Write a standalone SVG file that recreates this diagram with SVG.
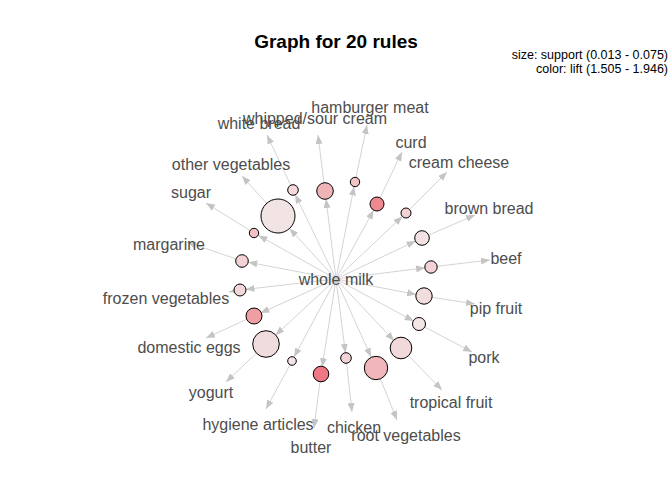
<svg xmlns="http://www.w3.org/2000/svg" width="672" height="480" viewBox="0 0 672 480">
<style>
.e{stroke:#d4d4d4;stroke-width:1;fill:none;marker-end:url(#ah)}
.r{stroke:#000;stroke-width:1}
.lb{font-family:"Liberation Sans",Arial,sans-serif;font-size:16px;fill:#4d4d4d;text-anchor:middle}
.lg{font-family:"Liberation Sans",Arial,sans-serif;font-size:12.5px;fill:#000;text-anchor:end}
</style>
<defs>
<marker id="ah" markerUnits="userSpaceOnUse" markerWidth="10" markerHeight="8" refX="9" refY="3.5" orient="auto">
<path d="M0,0 L9,3.5 L0,7 z" fill="#c4c4c4"/>
</marker>
</defs>
<rect width="672" height="480" fill="#fff"/>
<text x="336" y="48" font-family="'Liberation Sans',Arial,sans-serif" font-size="19" font-weight="bold" text-anchor="middle" fill="#000">Graph for 20 rules</text>
<text class="lg" x="668" y="59">size: support (0.013 - 0.075)</text>
<text class="lg" x="668" y="73">color: lift (1.505 - 1.946)</text>
<g id="connectors">
<line class="e" x1="336" y1="279" x2="258.4" y2="235.4"/>
<line class="e" x1="336" y1="279" x2="289.5" y2="228.5"/>
<line class="e" x1="336" y1="279" x2="295.2" y2="194.5"/>
<line class="e" x1="336" y1="279" x2="326.0" y2="198.9"/>
<line class="e" x1="336" y1="279" x2="354.1" y2="186.4"/>
<line class="e" x1="336" y1="279" x2="373.6" y2="210.1"/>
<line class="e" x1="336" y1="279" x2="402.4" y2="216.4"/>
<line class="e" x1="336" y1="279" x2="415.7" y2="241.0"/>
<line class="e" x1="336" y1="279" x2="425.1" y2="267.8"/>
<line class="e" x1="336" y1="279" x2="416.1" y2="294.5"/>
<line class="e" x1="336" y1="279" x2="413.7" y2="321.1"/>
<line class="e" x1="336" y1="279" x2="394.1" y2="340.7"/>
<line class="e" x1="336" y1="279" x2="371.1" y2="357.1"/>
<line class="e" x1="336" y1="279" x2="345.4" y2="353.0"/>
<line class="e" x1="336" y1="279" x2="322.1" y2="367.1"/>
<line class="e" x1="336" y1="279" x2="294.1" y2="357.0"/>
<line class="e" x1="336" y1="279" x2="275.5" y2="335.2"/>
<line class="e" x1="336" y1="279" x2="260.4" y2="313.1"/>
<line class="e" x1="336" y1="279" x2="245.5" y2="289.4"/>
<line class="e" x1="336" y1="279" x2="248.4" y2="262.2"/>
<line class="e" x1="254" y1="233" x2="206" y2="203"/>
<line class="e" x1="278" y1="216" x2="242" y2="176"/>
<line class="e" x1="293" y1="190" x2="267" y2="135"/>
<line class="e" x1="325" y1="191" x2="318" y2="135"/>
<line class="e" x1="355" y1="182" x2="367" y2="125"/>
<line class="e" x1="377" y1="204" x2="402" y2="152"/>
<line class="e" x1="406" y1="213" x2="447" y2="172"/>
<line class="e" x1="422" y1="238" x2="475" y2="215"/>
<line class="e" x1="431" y1="267" x2="490" y2="260"/>
<line class="e" x1="424" y1="296" x2="475" y2="304"/>
<line class="e" x1="419" y1="324" x2="472" y2="352"/>
<line class="e" x1="401" y1="348" x2="442" y2="390"/>
<line class="e" x1="376" y1="368" x2="397" y2="420"/>
<line class="e" x1="346" y1="358" x2="352" y2="412"/>
<line class="e" x1="321" y1="374" x2="314" y2="428"/>
<line class="e" x1="292" y1="361" x2="266" y2="409"/>
<line class="e" x1="266" y1="344" x2="226" y2="382"/>
<line class="e" x1="254" y1="316" x2="206" y2="338"/>
<line class="e" x1="240" y1="290" x2="229" y2="292"/>
<line class="e" x1="242" y1="261" x2="187" y2="242"/>
</g>
<g id="rule1"><circle class="r" cx="254" cy="233" r="4.7" fill="#f3c1c4"/></g>
<g id="rule2"><circle class="r" cx="278" cy="216" r="17" fill="#f2e4e5"/></g>
<g id="rule3"><circle class="r" cx="293" cy="190" r="5.3" fill="#f5d8da"/></g>
<g id="rule4"><circle class="r" cx="325" cy="191" r="8.3" fill="#f0b4b8"/></g>
<g id="rule5"><circle class="r" cx="355" cy="182" r="4.7" fill="#f2c4c7"/></g>
<g id="rule6"><circle class="r" cx="377" cy="204" r="7" fill="#ee8891"/></g>
<g id="rule7"><circle class="r" cx="406" cy="213" r="5" fill="#f3d2d4"/></g>
<g id="rule8"><circle class="r" cx="422" cy="238" r="7.3" fill="#f2e2e3"/></g>
<g id="rule9"><circle class="r" cx="431" cy="267" r="6.2" fill="#f2d2d4"/></g>
<g id="rule10"><circle class="r" cx="424" cy="296" r="8.2" fill="#f2dcde"/></g>
<g id="rule11"><circle class="r" cx="419" cy="324" r="6.5" fill="#f4e6e7"/></g>
<g id="rule12"><circle class="r" cx="401" cy="348" r="10.8" fill="#f1d8da"/></g>
<g id="rule13"><circle class="r" cx="376" cy="368" r="11.7" fill="#f0b6b9"/></g>
<g id="rule14"><circle class="r" cx="346" cy="358" r="5.3" fill="#f3d4d6"/></g>
<g id="rule15"><circle class="r" cx="321" cy="374" r="7.8" fill="#ee7884"/></g>
<g id="rule16"><circle class="r" cx="292" cy="361" r="4.3" fill="#f4e4e5"/></g>
<g id="rule17"><circle class="r" cx="266" cy="344" r="13.3" fill="#f1dcdd"/></g>
<g id="rule18"><circle class="r" cx="254" cy="316" r="8" fill="#ef9ea3"/></g>
<g id="rule19"><circle class="r" cx="240" cy="290" r="6" fill="#f3d6d8"/></g>
<g id="rule20"><circle class="r" cx="242" cy="261" r="6.3" fill="#f2d2d4"/></g>
<g id="whole-milk"><text class="lb" x="336" y="285">whole milk</text></g>
<g id="sugar"><text class="lb" x="191" y="198">sugar</text></g>
<g id="other-vegetables"><text class="lb" x="231" y="170">other vegetables</text></g>
<g id="white-bread"><text class="lb" x="259" y="129">white bread</text></g>
<g id="whipped-sour-cream"><text class="lb" x="315" y="124">whipped/sour cream</text></g>
<g id="hamburger-meat"><text class="lb" x="370" y="113">hamburger meat</text></g>
<g id="curd"><text class="lb" x="411" y="148">curd</text></g>
<g id="cream-cheese"><text class="lb" x="459" y="168">cream cheese</text></g>
<g id="brown-bread"><text class="lb" x="489" y="214">brown bread</text></g>
<g id="beef"><text class="lb" x="506" y="264">beef</text></g>
<g id="pip-fruit"><text class="lb" x="496" y="314">pip fruit</text></g>
<g id="pork"><text class="lb" x="484" y="363">pork</text></g>
<g id="tropical-fruit"><text class="lb" x="451" y="408">tropical fruit</text></g>
<g id="root-vegetables"><text class="lb" x="406" y="441">root vegetables</text></g>
<g id="chicken"><text class="lb" x="354" y="433">chicken</text></g>
<g id="butter"><text class="lb" x="311" y="453">butter</text></g>
<g id="hygiene-articles"><text class="lb" x="258" y="430">hygiene articles</text></g>
<g id="yogurt"><text class="lb" x="211" y="398">yogurt</text></g>
<g id="domestic-eggs"><text class="lb" x="189" y="353">domestic eggs</text></g>
<g id="frozen-vegetables"><text class="lb" x="166" y="304">frozen vegetables</text></g>
<g id="margarine"><text class="lb" x="169" y="250">margarine</text></g>
</svg>
